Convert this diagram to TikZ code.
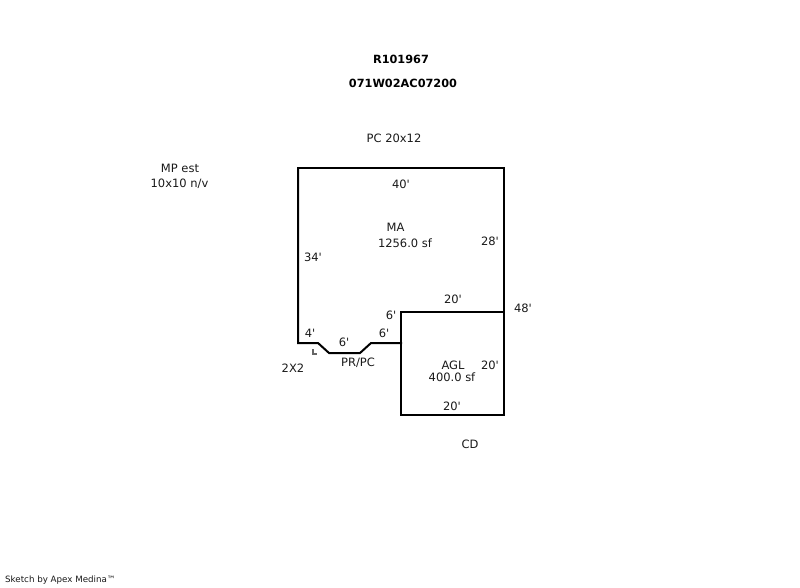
\documentclass[tikz,border=0pt]{standalone}
\usepackage{fontspec}
\newfontfamily\dv{DejaVu Sans}
\tikzset{
  wall/.style={draw=black,line width=2pt,line join=miter,line cap=rect},
  lbl/.style={inner sep=0pt,font=\dv\fontsize{11.5pt}{13pt}\selectfont,text=black!90},
  ttl/.style={inner sep=0pt,font=\dv\bfseries\fontsize{11.3pt}{13pt}\selectfont,text=black},
  credit/.style={inner sep=0pt,font=\dv\fontsize{8.7pt}{10pt}\selectfont,text=black!90}
}
\begin{document}
\begin{tikzpicture}[x=1pt,y=-1pt]
\useasboundingbox (0,0) rectangle (800,587);
% main outline
\draw[wall] (298,168) -- (504,168) -- (504,415) -- (401,415) -- (401,312) -- (504,312);
\draw[wall] (298,168) -- (298,343) -- (318,343) -- (329,353) -- (360,353) -- (371,343) -- (401,343);
\draw[draw=black!60,line width=1.8pt,line cap=butt] (312.6,349) -- (312.6,353.6) -- (317,353.6);
% titles
\node[ttl] (t1) at (401,59) {R101967};
\node[ttl] (t2) at (403,83) {071W02AC07200};
\node[lbl] (pc) at (394,138) {PC 20x12};
\node[lbl] (mp1) at (180,168) {MP est};
\node[lbl] (mp2) at (179.5,184) {10x10 n/v};
% dimensions
\node[lbl] (d40) at (401,184) {40'};
\node[lbl] (d28) at (490,241) {28'};
\node[lbl] (d34) at (313,257) {34'};
\node[lbl] (ma) at (395.5,227) {MA};
\node[lbl] (maa) at (405,243) {1256.0 sf};
\node[lbl] (d20a) at (453,299) {20'};
\node[lbl] (d48) at (523,308) {48'};
\node[lbl] (d6a) at (391,315) {6'};
\node[lbl] (d6b) at (384,333) {6'};
\node[lbl] (d4) at (310,333) {4'};
\node[lbl] (d6c) at (344,342) {6'};
\node[lbl] (prpc) at (358,363) {PR/PC};
\node[lbl] (x22) at (293,368) {2X2};
\node[lbl] (agl) at (453,365) {AGL};
\node[lbl] (d20b) at (490,365) {20'};
\node[lbl] (agla) at (452,377) {400.0 sf};
\node[lbl] (d20c) at (452,406) {20'};
\node[lbl] (cd) at (470,444) {CD};
\node[credit,anchor=west] (sk) at (5,580) {Sketch by Apex Medina™};
\end{tikzpicture}
\end{document}
